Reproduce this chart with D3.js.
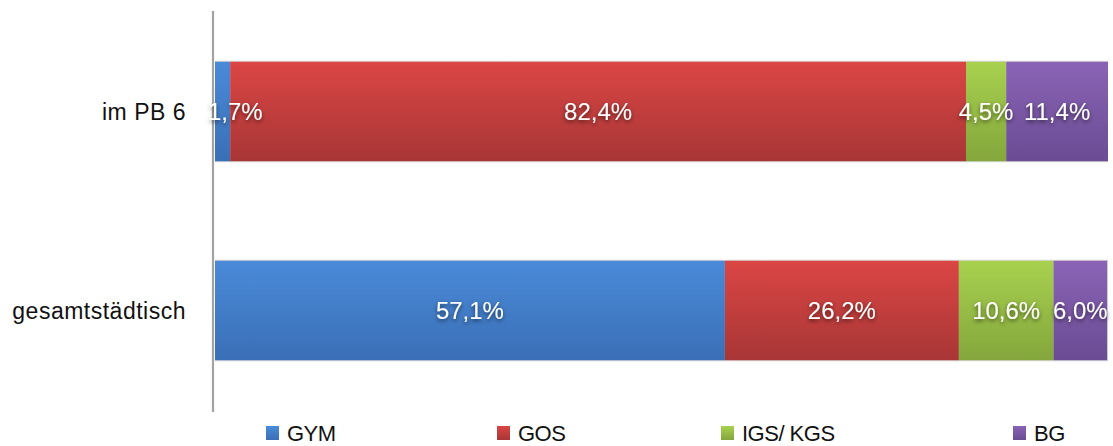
<!DOCTYPE html>
<html><head><meta charset="utf-8">
<script src="https://cdn.jsdelivr.net/npm/d3@7"></script>
<style>
html,body{margin:0;padding:0;background:#fff;}
svg{display:block;font-family:"Liberation Sans",Arial,Helvetica,sans-serif;}
</style></head>
<body>
<svg id="chart" width="1113" height="446"></svg>
<script>
const categories = ["im PB 6", "gesamtstädtisch"];
const seriesNames = ["GYM", "GOS", "IGS/ KGS", "BG"];
const GYM = [1.7, 57.1];
const GOS = [82.4, 26.2];
const IGS = [4.5, 10.6];
const BG  = [11.4, 6.0];
const seriesValues = [GYM, GOS, IGS, BG];
const colorsTop = ["#4a8ad9", "#da4644", "#a8d14f", "#8a63b6"];
const colorsBottom = ["#3a6fb6", "#a83636", "#84a63c", "#6a4c93"];
const legendX = [266, 497, 721, 1013];

const svg = d3.select("#chart");

const rows = categories.map((c, i) => {
  const o = {cat: c};
  seriesNames.forEach((s, j) => o[s] = seriesValues[j][i]);
  return o;
});
const stacked = d3.stack().keys(seriesNames)(rows);

const x = d3.scaleLinear().domain([0, 100]).range([215, 1108]);
const y = d3.scaleBand().domain(categories).range([12, 410]).paddingInner(0.5).paddingOuter(0.25);

const defs = svg.append("defs");
seriesNames.forEach((s, j) => {
  const g = defs.append("linearGradient").attr("id", "grad" + j)
    .attr("x1", 0).attr("y1", 0).attr("x2", 0).attr("y2", 1);
  g.append("stop").attr("offset", "0%").attr("stop-color", colorsTop[j]);
  g.append("stop").attr("offset", "100%").attr("stop-color", colorsBottom[j]);
});
const f = defs.append("filter").attr("id", "shadow").attr("x", "-20%").attr("y", "-40%").attr("width", "140%").attr("height", "180%");
f.append("feDropShadow").attr("dx", 0).attr("dy", 2).attr("stdDeviation", 2)
  .attr("flood-color", "#000").attr("flood-opacity", 0.6);

svg.append("g").selectAll("rect").data(categories).join("rect")
  .attr("x", x(0)).attr("y", d => y(d) - 1)
  .attr("width", x(100) - x(0)).attr("height", y.bandwidth() + 2)
  .attr("fill", "#d8d8d8");

const layers = svg.append("g").selectAll("g").data(stacked).join("g")
  .attr("fill", (d, i) => `url(#grad${i})`);
layers.selectAll("rect").data(d => d).join("rect")
  .attr("x", d => x(d[0]))
  .attr("y", d => y(d.data.cat))
  .attr("width", d => x(d[1]) - x(d[0]))
  .attr("height", y.bandwidth());

svg.append("line").attr("x1", 213).attr("x2", 213).attr("y1", 11).attr("y2", 412)
  .attr("stroke", "#a2a2a2").attr("stroke-width", 2.2);

svg.append("g").selectAll("text").data(categories).join("text")
  .attr("x", 186).attr("y", d => y(d) + y.bandwidth() / 2)
  .attr("dy", "0.35em").attr("text-anchor", "end")
  .attr("font-size", 23).attr("letter-spacing", 0.5).attr("fill", "#111")
  .text(d => d);

const fmt = v => v.toFixed(1).replace(".", ",") + "%";
const labG = svg.append("g");
stacked.forEach((layer) => {
  layer.forEach(d => {
    const v = d[1] - d[0];
    const t = labG.append("text")
      .attr("y", y(d.data.cat) + y.bandwidth() / 2)
      .attr("dy", "0.35em").attr("text-anchor", "middle")
      .attr("font-size", 24).attr("fill", "#fff")
      .attr("filter", "url(#shadow)")
      .text(fmt(v));
    const w = t.node().getComputedTextLength();
    let cx = (x(d[0]) + x(d[1])) / 2;
    cx = Math.max(cx, x(0) - 7 + w / 2);
    t.attr("x", cx);
  });
});

const leg = svg.append("g").selectAll("g").data(seriesNames).join("g")
  .attr("transform", (d, i) => `translate(${legendX[i]},0)`);
leg.append("rect").attr("x", 0).attr("y", 426).attr("width", 13).attr("height", 14)
  .attr("fill", (d, i) => `url(#grad${i})`);
leg.append("text").attr("x", 21).attr("y", 441)
  .attr("font-size", 22).attr("fill", "#111").attr("letter-spacing", -0.5)
  .text(d => d);
</script>
</body></html>
